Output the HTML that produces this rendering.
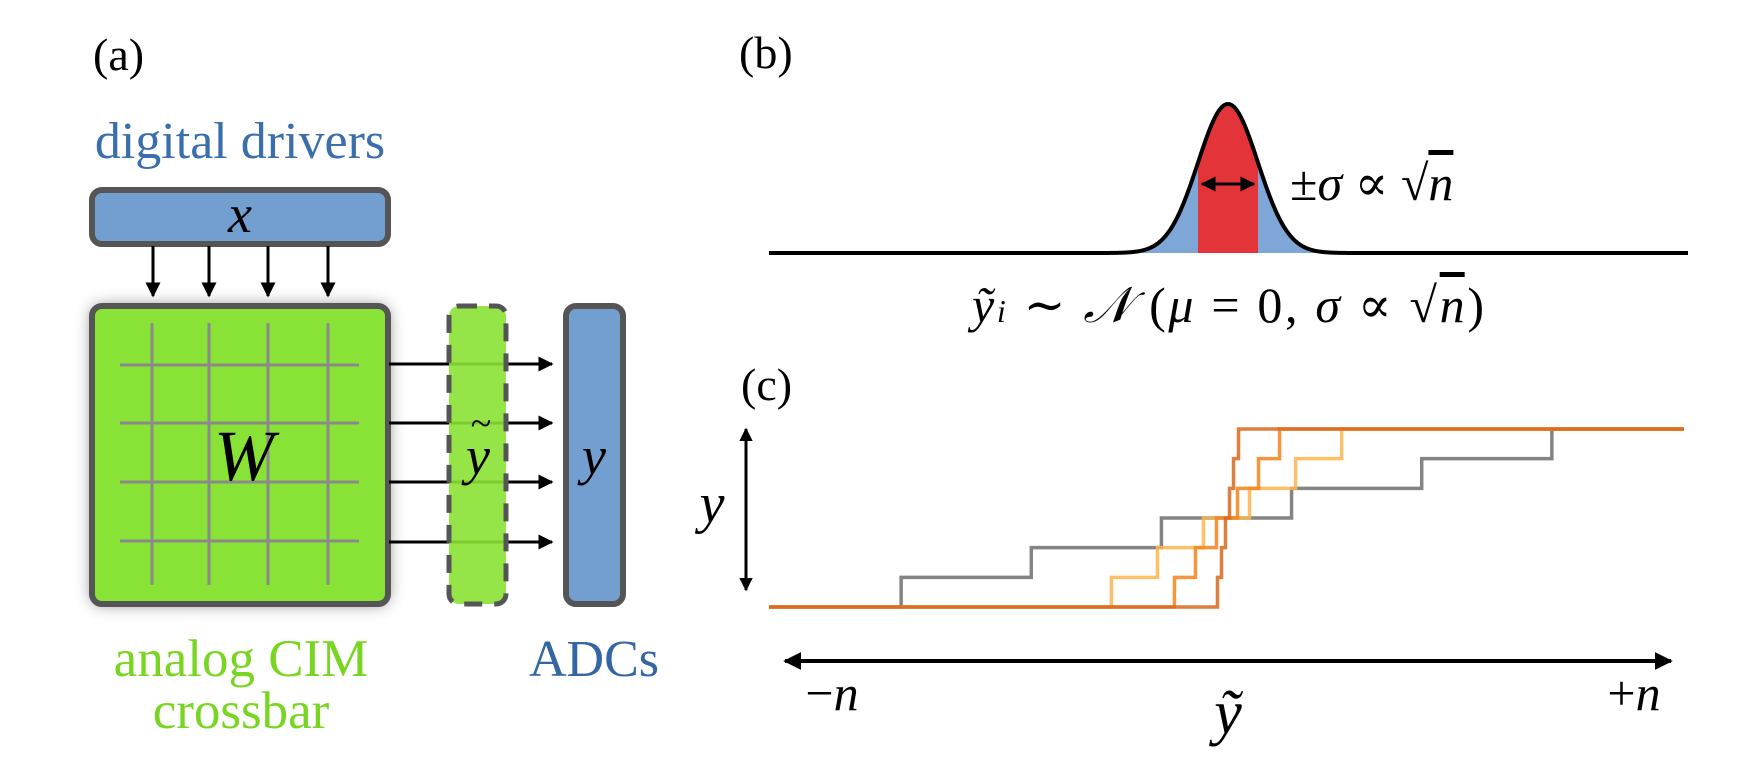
<!DOCTYPE html>
<html><head><meta charset="utf-8">
<style>
html,body{margin:0;padding:0;background:#fff;}
svg{display:block;}
text{font-family:"Liberation Serif","DejaVu Serif",serif;}
</style></head>
<body>
<svg width="1747" height="761" viewBox="0 0 1747 761" xmlns="http://www.w3.org/2000/svg">
<defs>
<filter id="sh" x="-20%" y="-20%" width="140%" height="140%"><feGaussianBlur stdDeviation="8"/></filter>
<marker id="ah" viewBox="0 0 10 10" refX="9" refY="5" markerWidth="5" markerHeight="5" orient="auto-start-reverse"><path d="M0,0 L10,5 L0,10 z" fill="#000"/></marker>
<marker id="ah2" viewBox="0 0 10 10" refX="9" refY="5" markerWidth="4.5" markerHeight="4.5" orient="auto-start-reverse"><path d="M0,0 L10,5 L0,10 z" fill="#000"/></marker>
</defs>

<!-- panel a -->
<text x="93" y="70" font-size="46">(a)</text>
<text x="240" y="158" font-size="52" fill="#3a6eac" text-anchor="middle">digital drivers</text>
<rect x="92" y="190" width="296" height="54" rx="10" fill="#729fcf" stroke="#555" stroke-width="6"/>
<text x="240" y="232" font-size="54" font-style="italic" text-anchor="middle">x</text>
<g stroke="#000" stroke-width="3">
<line x1="153" y1="246" x2="153" y2="296" marker-end="url(#ah)"/>
<line x1="209" y1="246" x2="209" y2="296" marker-end="url(#ah)"/>
<line x1="268" y1="246" x2="268" y2="296" marker-end="url(#ah)"/>
<line x1="328" y1="246" x2="328" y2="296" marker-end="url(#ah)"/>
</g>
<rect x="92" y="306" width="296" height="298" rx="10" fill="#444" opacity="0.7" filter="url(#sh)"/>
<rect x="92" y="306" width="296" height="298" rx="10" fill="#89e236" stroke="#555" stroke-width="6"/>
<g stroke="#8a8a8a" stroke-width="3">
<line x1="152" y1="323" x2="152" y2="585"/><line x1="209" y1="323" x2="209" y2="585"/>
<line x1="268" y1="323" x2="268" y2="585"/><line x1="328" y1="323" x2="328" y2="585"/>
<line x1="120" y1="365" x2="359" y2="365"/><line x1="120" y1="423" x2="359" y2="423"/>
<line x1="120" y1="482" x2="359" y2="482"/><line x1="120" y1="541" x2="359" y2="541"/>
</g>
<text x="244" y="480" font-size="72" font-style="italic" text-anchor="middle">W</text>
<g stroke="#000" stroke-width="3">
<line x1="389" y1="364" x2="552" y2="364" marker-end="url(#ah)"/>
<line x1="389" y1="423" x2="552" y2="423" marker-end="url(#ah)"/>
<line x1="389" y1="482" x2="552" y2="482" marker-end="url(#ah)"/>
<line x1="389" y1="542" x2="552" y2="542" marker-end="url(#ah)"/>
</g>
<rect x="449" y="306" width="57" height="298" rx="10" fill="#8ae234" fill-opacity="0.9" stroke="#555" stroke-width="5" stroke-dasharray="18,12"/>
<text x="478" y="474" font-size="54" font-style="italic" text-anchor="middle">y</text>
<text x="481" y="436" font-size="38" text-anchor="middle">~</text>
<rect x="566" y="306" width="57" height="298" rx="10" fill="#729fcf" stroke="#555" stroke-width="6"/>
<text x="594" y="474" font-size="54" font-style="italic" text-anchor="middle">y</text>
<text x="241" y="676" font-size="53" fill="#78d622" text-anchor="middle">analog CIM</text>
<text x="241" y="728" font-size="53" fill="#78d622" text-anchor="middle">crossbar</text>
<text x="594" y="676" font-size="52" fill="#3465a4" text-anchor="middle">ADCs</text>

<!-- panel b -->
<text x="739" y="68" font-size="46">(b)</text>
<g id="gauss"></g>
<text x="1290" y="200" font-size="50">±<tspan font-style="italic">σ</tspan> ∝ √<tspan font-style="italic" text-decoration="overline">n</tspan></text>
<text x="972" y="322" font-size="50" textLength="512"><tspan font-style="italic">ỹ</tspan><tspan font-style="italic" font-size="32">i</tspan> ∼ <tspan font-style="italic">𝒩</tspan> (<tspan font-style="italic">μ</tspan> = 0, <tspan font-style="italic">σ</tspan> ∝ √<tspan font-style="italic" text-decoration="overline">n</tspan>)</text>

<!-- panel c -->
<text x="741" y="400" font-size="46">(c)</text>
<line x1="746" y1="590" x2="746" y2="429" stroke="#000" stroke-width="3" marker-start="url(#ah2)" marker-end="url(#ah2)"/>
<text x="712" y="522" font-size="56" font-style="italic" text-anchor="middle">y</text>
<line x1="785" y1="661" x2="1671" y2="661" stroke="#000" stroke-width="4" marker-start="url(#ah2)" marker-end="url(#ah2)"/>
<text x="832" y="710" font-size="50" text-anchor="middle">−<tspan font-style="italic">n</tspan></text>
<text x="1634" y="710" font-size="50" text-anchor="middle">+<tspan font-style="italic">n</tspan></text>
<text x="1228" y="733" font-size="62" font-style="italic" text-anchor="middle">ỹ</text>
<g id="steps"></g>
</svg>
<script>
// Panel (c) data: step thresholds (relative ỹ units) for each quantizer
const seriesNames = ['coarse','wide','medium','fine'];
const greyThresholds = [-325,-195,-65,65,195,325];
const lightThresholds = [-115,-69,-23,23,69,115];
const mediumThresholds = [-52,-31,-10,11,32,53];
const darkThresholds = [-9,-5,-1,3,7,12];
const levels = [0,1,2,3,4,5,6];
// Panel (b) data
const gaussSigma = [30];
const gaussPeak = [149];

const NS='http://www.w3.org/2000/svg';
const xDomain=[-457,457], xRange=[769,1684];
const yDomain=[0,6], yRange=[607,429];
const sx=v=>xRange[0]+(v-xDomain[0])/(xDomain[1]-xDomain[0])*(xRange[1]-xRange[0]);
const sy=v=>yRange[0]+(v-yDomain[0])/(yDomain[1]-yDomain[0])*(yRange[1]-yRange[0]);

const stepsG=document.getElementById('steps');
const styles=[['#6e6e6e',0.85],['#fdb54e',0.85],['#f5841a',0.85],['#d9691c',0.85]];
[greyThresholds,lightThresholds,mediumThresholds,darkThresholds].forEach((th,si)=>{
  let d='M'+sx(xDomain[0])+','+sy(levels[0]);
  th.forEach((t,i)=>{d+=' L'+sx(t)+','+sy(levels[i])+' L'+sx(t)+','+sy(levels[i+1]);});
  d+=' L'+sx(xDomain[1])+','+sy(levels[levels.length-1]);
  const p=document.createElementNS(NS,'path');
  p.setAttribute('d',d);
  p.setAttribute('fill','none');
  p.setAttribute('stroke',styles[si][0]);
  p.setAttribute('stroke-opacity',styles[si][1]);
  p.setAttribute('stroke-width','3.5');
  
  
  stepsG.appendChild(p);
});

// Gaussian
const gG=document.getElementById('gauss');
const cx=1228, base=253, s=gaussSigma[0], h=gaussPeak[0];
const g=x=>base-h*Math.exp(-0.5*((x-cx)/s)**2);
function area(x0,x1,fill,name){
  let d='M'+x0+','+base;
  for(let x=x0;x<=x1;x+=1)d+=' L'+x+','+g(x).toFixed(2);
  d+=' L'+x1+','+base+' Z';
  const p=document.createElementNS(NS,'path');
  p.setAttribute('d',d);p.setAttribute('fill',fill);
  
  
  gG.appendChild(p);
}
area(cx-4*s,cx+4*s,'#7ea6d6','gaussian-tail-fill');
area(cx-s,cx+s,'#e3343a','gaussian-sigma-fill');
let d='M769,'+base;
for(let x=769;x<=1688;x+=1)d+=' L'+x+','+g(x).toFixed(2);
const c=document.createElementNS(NS,'path');
c.setAttribute('d',d);c.setAttribute('fill','none');c.setAttribute('stroke','#000');c.setAttribute('stroke-width','4');


gG.appendChild(c);
const a=document.createElementNS(NS,'line');
a.setAttribute('x1',cx-s+4);a.setAttribute('x2',cx+s-4);a.setAttribute('y1',184);a.setAttribute('y2',184);
a.setAttribute('stroke','#000');a.setAttribute('stroke-width','3');
a.setAttribute('marker-start','url(#ah)');a.setAttribute('marker-end','url(#ah)');


gG.appendChild(a);
</script>
</body></html>
